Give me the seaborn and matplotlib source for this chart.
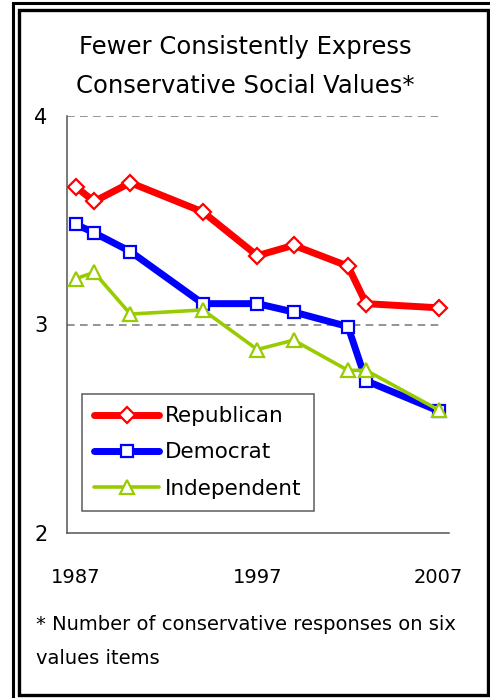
import matplotlib
matplotlib.use("Agg")
import matplotlib.pyplot as plt
from matplotlib.patches import Rectangle
import seaborn as sns

sns.set_theme(style="white")
plt.rcParams["font.family"] = ["DejaVu Sans"]
plt.rcParams["text.color"] = "black"
plt.rcParams["xtick.color"] = "black"
plt.rcParams["ytick.color"] = "black"

years = [1987, 1988, 1990, 1994, 1997, 1999, 2002, 2003, 2007]
republican = [3.66, 3.59, 3.68, 3.54, 3.33, 3.38, 3.28, 3.10, 3.08]
democrat = [3.48, 3.44, 3.35, 3.10, 3.10, 3.06, 2.99, 2.73, 2.585]
independent = [3.22, 3.25, 3.05, 3.07, 2.88, 2.925, 2.78, 2.78, 2.59]
year_ticks = [1987, 1997, 2007]
value_ticks = [2, 3, 4]

W, H = 490, 698
fig = plt.figure(figsize=(W / 100, H / 100), dpi=100)
fig.patch.set_facecolor("white")

ax = fig.add_axes([66.7 / W, 1 - 533 / H, (449 - 66.7) / W, (533 - 116) / H])
ax.set_facecolor("white")

series = [
    ("Republican", republican, "#FF0000", "D", 5.0, 8),
    ("Democrat", democrat, "#0000FF", "s", 5.0, 8.5),
    ("Independent", independent, "#99CC00", "^", 2.6, 10),
]
for name, vals, color, mk, lw, ms in series:
    sns.lineplot(x=years, y=vals, ax=ax, color=color, lw=lw, marker=mk,
                 markersize=ms, markerfacecolor="white", markeredgecolor=color,
                 markeredgewidth=1.6, label=name, zorder=3)

ax.set_xlim(1986.49, 2007.57)
ax.set_ylim(2, 4)
ax.set_xticks(year_ticks)
ax.set_xticklabels([str(y) for y in year_ticks], fontsize=14)
ax.set_yticks(value_ticks)
ax.set_yticklabels([str(v) for v in value_ticks], fontsize=15)
ax.tick_params(axis="x", length=0, pad=25)
ax.tick_params(axis="y", length=6, width=1, color="#555555", direction="out", pad=8)

for v in value_ticks[1:]:
    ax.hlines(v, 1986.49, 2007.25, colors="#777777", linestyles=(0, (5, 3.5)), lw=1.1, zorder=1)

for s in ["top", "right"]:
    ax.spines[s].set_visible(False)
for s in ["left", "bottom"]:
    ax.spines[s].set_color("#555555")
    ax.spines[s].set_linewidth(1.1)

leg = ax.legend(loc="upper left", bbox_to_anchor=(82 / W, 1 - 394 / H),
                bbox_transform=fig.transFigure, fontsize=15.5, frameon=True,
                fancybox=False, edgecolor="#333333", handlelength=3.0,
                handletextpad=0.3, borderpad=0.57, labelspacing=0.75,
                borderaxespad=0)
leg.get_frame().set_linewidth(1.1)

fig.text(0.5, 1 - 47 / H, "Fewer Consistently Express", ha="center", va="center",
         fontsize=17.5, fontweight="medium")
fig.text(0.5, 1 - 86 / H, "Conservative Social Values*", ha="center", va="center",
         fontsize=17.5, fontweight="medium")
fig.text(36 / W, 1 - 624 / H, "* Number of conservative responses on six",
         ha="left", va="center", fontsize=14)
fig.text(36 / W, 1 - 659 / H, "values items", ha="left", va="center", fontsize=14)

# double frame around the whole graphic
fig.patches.append(Rectangle((13 / W, -0.05), 1.2, 1 - 3 / H + 0.05,
                             transform=fig.transFigure, fill=False,
                             edgecolor="black", lw=2.2))
fig.patches.append(Rectangle((18.5 / W, 1 - 695 / H), (488 - 18.5) / W,
                             (695 - 9.5) / H, transform=fig.transFigure,
                             fill=False, edgecolor="black", lw=2.4))

fig.savefig("out.png", dpi=100, facecolor="white")
